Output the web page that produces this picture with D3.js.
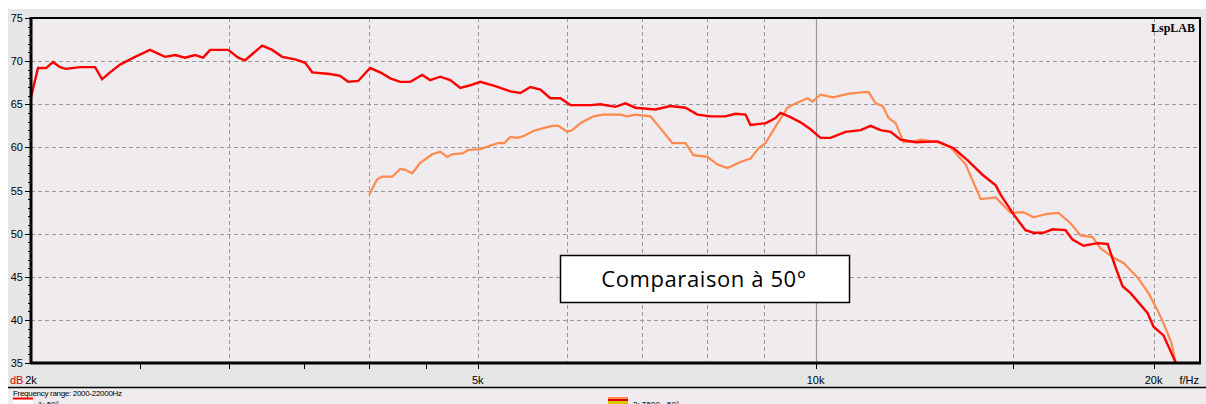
<!DOCTYPE html>
<meta charset="utf-8">
<head>
<style>
body { margin: 0; background: #fff; }
svg { display: block; font-family: "Liberation Sans", Arial, sans-serif; }
.grid line { stroke: #999; stroke-width: 1; stroke-dasharray: 4,3; }
.tick-label { font-size: 11px; fill: #000; }
</style>
</head>
<body>
<svg width="1206" height="404"></svg>
<script src="https://d3js.org/d3.v7.min.js"></script>
<script>

// curve 1: "1: 50°" (red)
var redFreq = [2000,2029,2063,2092,2123,2149,2212,2281,2314,2352,2401,2476,2553,2633,2688,2743,2800,2847,2888,2997,
  3059,3103,3213,3280,3348,3439,3510,3561,3694,3771,3833,3913,4010,4094,4179,4265,4354,4462,4536,4630,4726,4824,4924,
  5026,5184,5346,5457,5570,5686,5803,5924,6047,6300,6431,6632,6769,6910,7199,7424,7657,7847,8060,8311,8484,8660,8749,
  9023,9210,9305,9498,9695,9896,10101,10311,10634,10967,11194,11426,11663,11905,12278,12845,13274,13661,14089,14469,
  14619,15014,15379,15634,15958,16256,16696,16938,17324,17829,18200,18501,18769,19080,19755,20000,20415,20625,20924];
var redDb = [65.8,69.2,69.2,69.9,69.3,69.1,69.3,69.3,67.9,68.7,69.6,70.5,71.3,70.5,70.7,70.4,70.7,70.4,71.3,71.3,
  70.4,70.1,71.8,71.3,70.5,70.2,69.8,68.7,68.5,68.3,67.6,67.7,69.2,68.7,68.0,67.6,67.6,68.4,67.8,68.2,67.8,66.9,67.2,
  67.6,67.1,66.5,66.3,67.0,66.7,65.7,65.7,64.9,64.9,65.0,64.7,65.1,64.6,64.4,64.8,64.6,63.8,63.6,63.6,63.9,63.8,62.6,
  62.8,63.4,64.0,63.5,62.9,62.1,61.1,61.1,61.8,62.0,62.5,62.0,61.8,60.9,60.6,60.7,59.9,58.5,56.8,55.6,
  54.5,52.2,50.4,50.1,50.1,50.5,50.4,49.3,48.6,48.9,48.8,46.1,43.9,43.1,40.8,39.2,38.2,36.9,35.1];

// curve 2: "2: T500 - 50°" (orange)
var orangeFreq = [4002,4068,4110,4196,4265,4309,4372,4444,4555,4630,4697,4746,4844,4904,5026,5131,5216,5281,5346,5423,
  5491,5605,5709,5827,5899,6010,6071,6172,6339,6470,6699,6797,6910,7126,7273,7454,7657,7783,8010,8176,8346,8571,8749,
  8894,9023,9210,9439,9596,9835,9936,10101,10368,10677,11034,11148,11310,11474,11616,11784,11979,12227,12404,12845,
  13192,13605,14030,14469,14922,15316,15634,16090,16458,16869,17218,17647,17938,18426,18808,19357,19796,20165,20415,
  20753,20924];
var orangeDb = [54.5,56.3,56.6,56.6,57.5,57.4,57.0,58.2,59.2,59.5,58.9,59.2,59.3,59.7,59.8,60.2,60.5,60.5,61.2,61.1,
  61.3,61.9,62.2,62.5,62.5,61.8,62.0,62.8,63.6,63.8,63.8,63.6,63.8,63.6,62.2,60.5,60.5,59.1,58.9,58.0,57.6,58.3,58.7,
  59.9,60.5,62.4,64.6,65.1,65.7,65.3,66.1,65.8,66.2,66.4,66.4,65.1,64.8,63.4,62.8,60.6,60.7,60.9,60.6,
  60.0,58.0,54.0,54.2,52.4,52.5,51.9,52.3,52.4,51.2,49.8,49.6,48.3,47.2,46.6,44.9,43.1,41.1,39.6,
  37.3,35.1];

var yTicks = [35, 40, 45, 50, 55, 60, 65, 70, 75];
var xLabels = [[2000, "2k"], [5000, "5k"], [10000, "10k"], [20000, "20k"]];
var xTicks = [2500, 3000, 3500, 4000, 4500, 5000, 10000, 15000, 20000];
var xGrid = [3000, 4000, 5000, 6000, 7000, 8000, 9000, 15000, 20000];

var svg = d3.select("svg");

var x = d3.scaleLog().domain([2000, 22000]).range([31, 1200]);
var y = d3.scaleLinear().domain([35, 75]).range([363, 18]);

// backgrounds
svg.append("rect").attr("x", 0).attr("y", 0).attr("width", 1206).attr("height", 404).attr("fill", "#fff");
svg.append("rect").attr("x", 8).attr("y", 9).attr("width", 1198).attr("height", 378).attr("fill", "#e6e6e6");
svg.append("rect").attr("x", 8).attr("y", 387).attr("width", 1198).attr("height", 17).attr("fill", "#efebef");
svg.append("line").attr("x1", 8).attr("x2", 1206).attr("y1", 387.5).attr("y2", 387.5).attr("stroke", "#000").attr("stroke-width", 1.5);
svg.append("rect").attr("x", 31).attr("y", 18).attr("width", 1169).attr("height", 345).attr("fill", "#efebef");

// grid
var grid = svg.append("g").attr("class", "grid");
grid.selectAll(".h").data(yTicks.slice(1, -1)).enter().append("line")
    .attr("x1", 31).attr("x2", 1200)
    .attr("y1", function(d) { return Math.round(y(d)) + 0.5; })
    .attr("y2", function(d) { return Math.round(y(d)) + 0.5; });
grid.selectAll(".v").data(xGrid).enter().append("line")
    .attr("y1", 18).attr("y2", 363)
    .attr("x1", function(d) { return Math.round(x(d)) + 0.5; })
    .attr("x2", function(d) { return Math.round(x(d)) + 0.5; });
svg.append("line")
    .attr("x1", Math.round(x(10000)) + 0.5).attr("x2", Math.round(x(10000)) + 0.5)
    .attr("y1", 18).attr("y2", 363)
    .attr("stroke", "#999").attr("stroke-width", 1.2);

// curves
var line = d3.line()
    .x(function(d) { return x(d[0]); })
    .y(function(d) { return y(d[1]); });

svg.append("path")
    .datum(d3.zip(orangeFreq, orangeDb))
    .attr("fill", "none").attr("stroke", "#ff8a4c").attr("stroke-width", 2.2)
    .attr("d", line);
svg.append("path")
    .datum(d3.zip(redFreq, redDb))
    .attr("fill", "none").attr("stroke", "#ff0000").attr("stroke-width", 2.4)
    .attr("d", line);

// frame
svg.append("rect").attr("x", 31).attr("y", 18).attr("width", 1169).attr("height", 345)
    .attr("fill", "none").attr("stroke", "#000").attr("stroke-width", 2);
svg.append("line").attr("x1", 31).attr("x2", 31).attr("y1", 17).attr("y2", 364).attr("stroke", "#000").attr("stroke-width", 3);
svg.append("line").attr("x1", 30).attr("x2", 1201).attr("y1", 363).attr("y2", 363).attr("stroke", "#000").attr("stroke-width", 3);

// y axis: minor ticks every dB, major every 5
var yAxis = svg.append("g");
yAxis.selectAll(".minor").data(d3.range(35, 76)).enter().append("line")
    .attr("x1", 28).attr("x2", 31)
    .attr("y1", function(d) { return Math.round(y(d)) + 0.5; })
    .attr("y2", function(d) { return Math.round(y(d)) + 0.5; })
    .attr("stroke", "#000").attr("stroke-width", 1);
yAxis.selectAll(".major").data(yTicks).enter().append("line")
    .attr("x1", 25).attr("x2", 31)
    .attr("y1", function(d) { return Math.round(y(d)) + 0.5; })
    .attr("y2", function(d) { return Math.round(y(d)) + 0.5; })
    .attr("stroke", "#000").attr("stroke-width", 1);
yAxis.selectAll("text").data(yTicks).enter().append("text")
    .attr("class", "tick-label")
    .attr("x", 23).attr("y", function(d) { return y(d) + 4; })
    .attr("text-anchor", "end")
    .text(function(d) { return d; });

// x axis ticks and labels
svg.selectAll(".xt").data(xTicks).enter().append("line")
    .attr("x1", function(d) { return Math.round(x(d)) + 0.5; })
    .attr("x2", function(d) { return Math.round(x(d)) + 0.5; })
    .attr("y1", 363).attr("y2", 369)
    .attr("stroke", "#000").attr("stroke-width", 1);
svg.selectAll(".xl").data(xLabels).enter().append("text")
    .attr("class", "tick-label")
    .attr("x", function(d) { return x(d[0]); }).attr("y", 384)
    .attr("text-anchor", "middle")
    .text(function(d) { return d[1]; });
svg.append("text").attr("class", "tick-label").attr("x", 10).attr("y", 384)
    .style("fill", "#e00000").text("dB");
svg.append("text").attr("class", "tick-label").attr("x", 1199).attr("y", 384)
    .attr("text-anchor", "end").text("f/Hz");

// brand
svg.append("text").attr("x", 1195).attr("y", 32).attr("text-anchor", "end")
    .style("font-family", "'Liberation Serif', 'Times New Roman', serif")
    .style("font-weight", "bold").style("font-size", "12px")
    .text("LspLAB");

// annotation box
svg.append("rect").attr("x", 560.5).attr("y", 255.5).attr("width", 289).attr("height", 47)
    .attr("fill", "#fff").attr("stroke", "#000").attr("stroke-width", 1.5);
svg.append("text").attr("x", 704).attr("y", 287).attr("text-anchor", "middle")
    .style("font-family", "'Open Sans', 'DejaVu Sans', sans-serif").style("font-size", "22px")
    .style("letter-spacing", "0.6px")
    .text("Comparaison à 50°");

// legend (bottom rows are clipped by the window, as in the original)
svg.append("text").attr("x", 13).attr("y", 396).style("font-size", "8px").style("letter-spacing", "-0.3px")
    .text("Frequency range: 2000-22000Hz");
svg.append("line").attr("x1", 13).attr("x2", 33).attr("y1", 398.5).attr("y2", 398.5)
    .attr("stroke", "#ff0000").attr("stroke-width", 2);
svg.append("rect").attr("x", 13).attr("y", 400).attr("width", 20).attr("height", 4).attr("fill", "#fff");
svg.append("text").attr("x", 38).attr("y", 407).style("font-size", "8px").text("1: 50°");
svg.append("rect").attr("x", 608).attr("y", 397).attr("width", 20).attr("height", 2).attr("fill", "#ff8a4c");
svg.append("rect").attr("x", 608).attr("y", 399).attr("width", 20).attr("height", 2).attr("fill", "#e00000");
svg.append("rect").attr("x", 608).attr("y", 401).attr("width", 20).attr("height", 3).attr("fill", "#d8c800");
svg.append("text").attr("x", 633).attr("y", 407).style("font-size", "8px").text("2: T500 - 50°");

</script>
</body>
</html>
